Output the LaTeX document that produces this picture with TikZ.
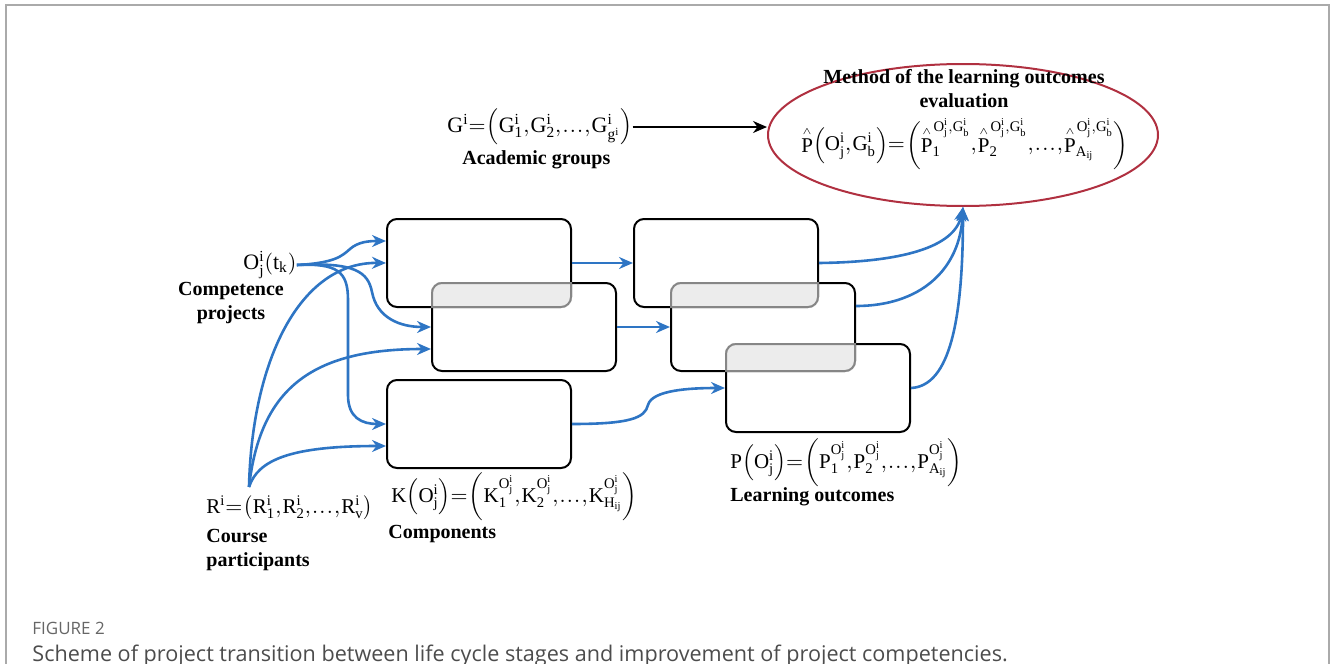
\documentclass[tikz,border=0pt]{standalone}
\usepackage{fontspec}
\setmainfont{Liberation Serif}
\newfontfamily\capfont{Open Sans}
\usetikzlibrary{arrows.meta,calc,shapes.geometric}
\definecolor{cblue}{RGB}{46,117,196}
\definecolor{cred}{RGB}{176,48,64}
\definecolor{cframe}{RGB}{170,170,170}
\newcommand{\tightmath}{\thinmuskip=1mu\medmuskip=1mu\thickmuskip=2mu}
\newcommand{\hatP}{{\stackrel{\scriptscriptstyle\wedge}{\mathrm{P}}}}
\begin{document}
\begin{tikzpicture}[x=0.5pt,y=-0.5pt,
 bx/.style={draw=black, line width=1pt, rounded corners=5pt, minimum width=92pt, minimum height=44pt, inner sep=0pt},
 lbl/.style={font=\fontsize{10}{12}\selectfont\bfseries, inner sep=0pt},
 fm/.style={font=\fontsize{10.5}{12}\selectfont\tightmath, inner sep=0pt},
 bl/.style={draw=cblue, line width=1.3pt, -{Stealth[length=7pt,width=6pt]}},
 ov/.style={fill=black!12, opacity=0.6}]
\useasboundingbox (0,0) rectangle (1330,664);
\draw[cframe, line width=1pt] (6,664) -- (6,5) -- (1329,5) -- (1329,664);

% boxes
\node[bx] (A1) at (479,263) {};
\node[bx] (A2) at (524,327) {};
\node[bx] (A3) at (479,424) {};
\node[bx] (B1) at (726,263) {};
\node[bx] (B2) at (763,327) {};
\node[bx] (B3) at (818,388) {};
\begin{scope}
\clip[rounded corners=5pt] (A1.south west) rectangle (A1.north east);
\fill[ov, rounded corners=5pt] (A2.south west) rectangle (A2.north east);
\end{scope}
\begin{scope}
\clip[rounded corners=5pt] (B1.south west) rectangle (B1.north east);
\fill[ov, rounded corners=5pt] (B2.south west) rectangle (B2.north east);
\end{scope}
\begin{scope}
\clip[rounded corners=5pt] (B2.south west) rectangle (B2.north east);
\fill[ov, rounded corners=5pt] (B3.south west) rectangle (B3.north east);
\end{scope}

% ellipse
\node[ellipse, draw=cred, line width=1pt, minimum width=195pt, minimum height=71pt] (E) at (963,135) {};
\node[lbl, align=center] (Et) at (964,89) {Method of the learning outcomes\\evaluation};
\node[fm] (Ef) at (965,144) {$\mathrm{\hatP{\left(O^i_j,G^i_b\right)}{=}\left(\hatP_1^{\,O^i_j,G^i_b},\hatP_2^{\,O^i_j,G^i_b},\ldots,\hatP_{A_{ij}}^{\,O^i_j,G^i_b}\right)}$};

% labels
\node[fm, font=\fontsize{11}{12}\selectfont\tightmath, anchor=west] (G) at (447,127) {$\mathrm{G^i{=}\left(G^i_1,G^i_2,\ldots,G^i_{g^i}\right)}$};
\node[lbl, anchor=west] (Gl) at (462,160) {Academic groups};
\node[fm, font=\fontsize{11}{12}\selectfont\tightmath, anchor=west] (O) at (243,265) {$\mathrm{O^i_j{\left(t_k\right)}}$};
\node[lbl, align=center] (Ol) at (231,303) {Competence\\projects};
\node[fm, anchor=west] (R) at (206,508) {$\mathrm{R^i{=}\left(R^i_1,R^i_2,\ldots,R^i_v\right)}$};
\node[lbl, align=left, anchor=west] (Rl) at (206,550) {Course\\participants};
\node[fm, anchor=west] (K) at (391,497) {$\mathrm{K{\left(O^i_j\right)}{=}\left(K_1^{O^i_j},K_2^{O^i_j},\ldots,K_{H_{ij}}^{O^i_j}\right)}$};
\node[lbl, anchor=west] (Kl) at (388,534) {Components};
\node[fm, anchor=west] (P) at (730,463) {$\mathrm{P{\left(O^i_j\right)}{=}\left(P_1^{O^i_j},P_2^{O^i_j},\ldots,P_{A_{ij}}^{O^i_j}\right)}$};
\node[lbl, anchor=west] (Pl) at (730,497) {Learning outcomes};
\coordinate (rs) at (249,487);

% black arrow
\draw[line width=1pt, -{Stealth[length=7pt,width=6pt]}] (G.east) -- (G.east -| E.west);

% left connectors
\draw[bl] (O.east) .. controls (335,263) and (342,256) .. (350,249) .. controls (358,242) and (368,241) .. ($(A1.west)+(0,-22)$);
\draw[bl] (O.east) .. controls (355,262) and (368,272) .. (372,292) .. controls (377,318) and (400,327) .. (A2.west);
\draw[bl] (O.east) .. controls (338,263) and (348,272) .. (348,300) -- (348,395) .. controls (348,418) and (362,424) .. (A3.west);
\draw[bl] (rs) .. controls (252,360) and (300,262) .. (A1.west);
\draw[bl] (rs) .. controls (260,390) and (310,349) .. ($(A2.west)+(0,22)$);
\draw[bl] (rs) .. controls (258,460) and (290,446) .. ($(A3.west)+(0,22)$);

% middle connectors
\draw[bl] (A1.east) -- (B1.west);
\draw[bl] (A2.east) -- (B2.west);
\draw[bl] (A3.east) .. controls (630,424) and (645,418) .. (648,405) .. controls (652,390) and (690,388) .. (B3.west);

% right connectors
\draw[bl] (B1.east) .. controls (900,262) and (955,248) .. (E.south);
\draw[bl] ($(B2.east)+(0,-21)$) .. controls (920,306) and (960,270) .. (E.south);
\draw[bl] (B3.east) .. controls (950,386) and (963,320) .. (E.south);

% caption
\node[anchor=base west, inner sep=0pt, font=\capfont\fontsize{8.5}{10}\selectfont, text=black!60] (fig) at (32,634) {FIGURE 2};
\node[anchor=base west, inner sep=0pt, font=\capfont\fontsize{10.8}{12}\selectfont, text=black!70] (cap) at (32,661) {Scheme of project transition between life cycle stages and improvement of project competencies.};
\end{tikzpicture}
\end{document}
